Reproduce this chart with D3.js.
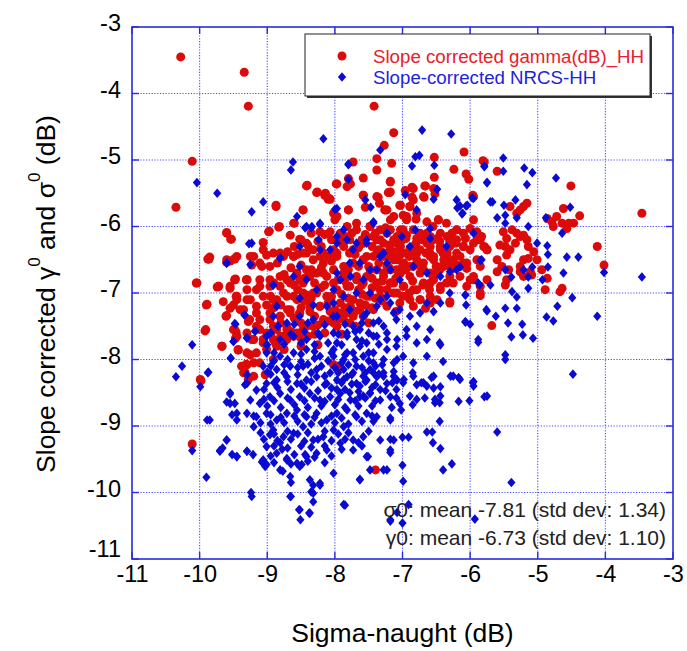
<!DOCTYPE html>
<html>
<head>
<meta charset="utf-8">
<script src="https://cdn.jsdelivr.net/npm/d3@7"></script>
<style>
  body { margin: 0; background: #fff; }
  svg { display: block; font-family: "Liberation Sans", Arial, Helvetica, sans-serif; }
</style>
</head>
<body>
<svg id="chart" width="687" height="651"></svg>
<script>
// Axis ticks
const xTicks = [-11, -10, -9, -8, -7, -6, -5, -4, -3];
const yTicks = [-3, -4, -5, -6, -7, -8, -9, -10, -11];

// Legend and summary text
const legendLabels = ["Slope corrected gamma(dB)_HH", "Slope-corrected NRCS-HH"];
const statsLines = ["\u03c30: mean -7.81 (std dev: 1.34)", "\u03b30: mean -6.73 (std dev: 1.10)"];

// Slope corrected gamma-naught (dB) vs sigma-naught (dB)
const gammaPoints = [
[-10.28,-3.45],[-9.34,-3.68],[-9.28,-4.19],[-10.11,-5.02],[-10.35,-5.71],[-10.04,-6.85],[-9.89,-7.17],[-9.92,-7.57],[-9.88,-6.49],[-9.67,-7.8],
[-9.61,-7.35],[-9.74,-6.91],[-9.6,-6.1],[-9.54,-6.19],[-9.55,-6.52],[-9.49,-6.49],[-9.55,-6.93],[-9.47,-6.79],[-9.46,-7.05],[-9.5,-7.18],
[-9.46,-7.59],[-9.47,-7.68],[-9.43,-7.86],[-9.31,-6.8],[-9.31,-8.07],[-9.33,-8.2],[-9.28,-8.3],[-10.11,-9.27],[-9.98,-8.32],[-7.4,-9.66],[-9.85,-6.46],
[-7.42,-4.19],[-8.41,-5.38],[-8.26,-5.48],[-8.14,-5.5],[-8.1,-5.59],[-8.87,-5.7],[-8.47,-5.75],[-8.6,-5.95],[-8.97,-6.07],[-8.83,-6.01],[-9.06,-6.24],
[-4.51,-5.39],[-3.46,-5.8],[-4.12,-6.3],[-4.02,-6.58],[-5.6,-5.17],[-5.81,-5.01],[-5.96,-5.53],
[-7.13,-4.59],[-7.27,-4.78],[-7.38,-4.98],[-7.73,-5.03],[-7.16,-5.05],[-7.38,-5.15],[-7.98,-5.36],[-7.8,-5.28],[-7.58,-5.27],[-7.18,-5.32],
[-7.77,-5.36],[-6.53,-4.96],[-6.09,-4.88],[-6.24,-5.14],[-6.06,-5.21],[-6.02,-5.29],[-5.79,-5.03],[-6.53,-5.26],[-6.67,-5.39],[-6.84,-5.43],
[-6.96,-5.46],[-6.86,-5.56],[-6.68,-5.56],[-6.52,-5.51],[-7.18,-5.48],[-7.58,-5.53],[-7.36,-5.56],[-7.34,-5.65],[-7.55,-5.71],[-7.26,-5.75],
[-7.8,-5.75],[-7.97,-5.85],[-8.0,-5.9],[-7.04,-5.68],[-6.89,-5.7],[-6.99,-5.83],[-6.94,-5.9],[-6.8,-5.89],[-6.47,-5.9],[-5.95,-5.55],
[-5.83,-6.15],[-5.78,-6.31],[-6.2,-6.05],[-6.07,-6.18],[-6.21,-6.25],[-8.07,-5.59],[-7.82,-6.0],[-7.68,-6.05],[-7.48,-6.0],[-7.18,-6.05],
[-6.99,-6.05],[-6.74,-6.1],[-6.59,-6.15],[-6.44,-6.1],[-6.3,-6.15],[-7.78,-6.2],[-7.58,-6.25],[-7.38,-6.2],[-7.09,-6.25],[-6.84,-6.3],
[-6.64,-6.25],[-6.44,-6.3],[-7.97,-6.4],[-7.78,-6.4],[-7.53,-6.45],[-7.28,-6.4],[-7.04,-6.43],[-6.79,-6.4],[-6.54,-6.45],[-6.1,-6.3],
[-5.9,-6.2],[-5.75,-6.35],
[-5.51,-6.08],[-5.46,-6.18],[-5.38,-6.05],[-5.31,-6.1],[-5.26,-6.15],[-5.21,-6.13],[-5.16,-6.2],[-5.14,-6.3],[-5.33,-6.25],[-5.41,-6.35],
[-5.48,-6.3],[-5.46,-6.43],[-5.56,-6.28],[-5.6,-6.5],[-5.53,-6.6],[-5.43,-6.65],[-5.26,-6.6],[-5.21,-6.5],[-5.14,-6.48],[-5.06,-6.38],
[-5.01,-6.5],[-4.94,-6.65],[-4.86,-6.78],[-5.09,-6.73],[-5.11,-6.68],[-5.26,-6.68],[-5.46,-6.8],[-5.48,-6.88],[-5.6,-6.68],[-5.21,-6.75],
[-4.89,-6.95],[-4.64,-6.93],[-4.67,-6.98],[-5.68,-7.49],[-5.85,-7.04],[-5.85,-6.2],[-5.75,-6.35],[-5.8,-6.3],[-5.9,-6.08],[-6.0,-6.03],
[-6.2,-6.05],[-6.27,-6.1],[-6.25,-6.25],[-6.34,-6.4],[-6.39,-6.5],[-6.42,-6.6],[-6.2,-6.58],[-6.1,-6.55],[-6.05,-6.63],[-6.15,-6.75],
[-6.0,-6.8],[-5.95,-6.75],[-5.75,-6.8],[-5.85,-6.9],[-4.86,-5.88],[-4.79,-5.93],[-4.72,-5.85],[-4.77,-6.0],[-4.62,-5.73],[-4.54,-5.95],
[-4.47,-5.95],[-4.38,-5.84],[-4.57,-6.03],[-4.64,-5.95],[-5.31,-5.8],[-5.21,-5.7],[-5.16,-5.65],[-5.26,-5.75],[-5.41,-5.7],
[-7.18,-5.33],[-6.86,-5.41],[-6.66,-5.39],[-7.19,-5.49],[-7.03,-5.68],[-6.84,-5.6],[-6.69,-5.55],[-6.54,-5.43],[-6.89,-5.7],[-7.26,-5.75],
[-7.13,-5.85],[-6.79,-5.8],[-6.94,-5.85],[-6.47,-5.9],[-6.64,-5.93],[-7.03,-6.05],[-6.84,-6.05],
[-7.33,-6.2],[-7.23,-6.1],[-7.08,-6.15],[-6.94,-6.13],[-6.79,-6.18],[-6.64,-6.1],[-6.49,-6.18],[-6.34,-6.15],[-6.2,-6.2],[-6.1,-6.3],
[-6.3,-6.3],[-6.44,-6.35],[-6.59,-6.3],[-6.74,-6.35],[-6.89,-6.33],[-7.03,-6.3],[-7.18,-6.35],[-7.28,-6.45],[-7.13,-6.5],[-6.98,-6.55],
[-6.84,-6.6],[-6.69,-6.55],[-6.54,-6.5],[-6.39,-6.6],[-6.25,-6.63],[-6.59,-6.7],[-6.74,-6.7],[-6.89,-6.75],[-7.03,-6.7],[-7.18,-6.65],
[-7.28,-6.75],[-7.13,-6.85],[-6.98,-6.9],[-6.84,-6.95],[-6.69,-6.85],[-6.54,-6.8],[-6.44,-6.95],[-6.3,-6.75],[-6.3,-7.15],[-6.59,-7.05],
[-6.74,-7.1],[-6.94,-7.05],[-7.08,-7.0],[-7.23,-6.95],[-6.66,-7.23],[-6.84,-7.2],
[-8.42,-5.39],[-8.27,-5.49],[-8.15,-5.53],[-8.08,-5.58],[-7.97,-5.36],[-7.82,-5.4],[-7.58,-5.53],[-7.38,-5.55],[-7.21,-5.49],[-7.23,-5.75],
[-7.8,-5.75],[-8.02,-5.8],[-8.47,-5.75],[-8.87,-5.68],[-8.61,-5.95],[-8.82,-6.0],[-8.98,-6.08],[-8.66,-6.13],[-8.52,-6.19],[-8.42,-6.25],
[-8.22,-6.08],[-8.07,-6.08],[-7.92,-6.1],[-7.68,-5.95],[-7.48,-6.0],[-7.33,-6.05],[-7.18,-5.9],[-7.13,-6.2],[-7.28,-6.25],[-7.43,-6.15],
[-7.58,-6.25],[-7.73,-6.35],[-7.87,-6.3],[-8.02,-6.35],[-8.17,-6.4],[-8.32,-6.35],[-8.47,-6.4],[-8.61,-6.45],[-8.76,-6.45],[-8.91,-6.4],
[-9.06,-6.35],[-9.2,-6.45],[-9.23,-6.58],[-9.08,-6.6],[-8.96,-6.6],[-9.11,-6.8],[-9.3,-6.8],[-9.48,-6.8],[-9.55,-6.9],[-9.72,-6.9],
[-9.6,-6.5],[-9.48,-6.49],[-9.6,-6.09],[-9.53,-6.19],[-9.87,-6.49],[-9.6,-7.34],[-9.45,-7.1],[-9.3,-7.1],[-9.16,-7.2],[-9.01,-7.18],
[-8.86,-7.1],[-8.71,-7.05],[-8.56,-7.1],[-8.42,-7.03],[-8.27,-7.0],[-8.12,-7.05],[-7.97,-6.95],[-7.82,-6.9],[-7.68,-6.8],[-7.53,-6.75],
[-7.38,-6.65],[-7.23,-6.6],[-7.08,-6.5],[-8.71,-6.8],[-8.56,-6.7],[-8.42,-6.65],[-8.27,-6.7],[-8.12,-6.75],[-8.02,-6.65],[-7.87,-6.6],
[-7.73,-6.55],[-7.58,-6.5],[-7.43,-6.45],[-7.28,-6.4],[-8.32,-6.5],[-8.17,-6.55],[-8.47,-6.85],[-8.81,-6.9],[-8.96,-6.9],[-9.16,-6.95],
[-9.3,-6.95],[-9.4,-7.25],[-9.26,-7.4],[-9.11,-7.4],[-8.96,-7.4],[-8.81,-7.35],[-8.66,-7.3],[-8.52,-7.3],[-8.37,-7.2],[-8.22,-7.2],
[-8.07,-7.28],[-7.92,-7.3],[-7.77,-7.2],[-7.63,-7.15],[-7.48,-7.05],[-7.33,-6.95],[-7.18,-6.85],[-8.71,-7.5],[-8.86,-7.55],[-9.01,-7.6],
[-9.16,-7.5],[-9.3,-7.6],[-9.45,-7.65],[-9.5,-7.55],[-9.2,-7.7],[-9.06,-7.75],[-8.91,-7.7],[-8.76,-7.65],[-8.61,-7.65],[-8.47,-7.55],
[-8.32,-7.5],[-8.17,-7.4],[-8.02,-7.45],[-7.87,-7.4],[-7.73,-7.35],[-9.3,-7.9],[-9.16,-7.9],[-9.01,-7.85],[-8.86,-7.8],[-9.11,-8.05],
[-8.91,-8.0],[-9.3,-8.08],[-9.35,-8.2],[-9.2,-8.25],[-9.03,-8.23],[-8.02,-8.08],[-7.97,-8.1],
[-9.86,-6.49],[-9.6,-6.54],[-9.45,-6.45],[-9.25,-6.45],[-9.11,-6.55],[-9.01,-6.43],[-8.81,-6.4],[-8.61,-6.45],[-8.42,-6.4],[-8.22,-6.45],
[-8.02,-6.4],[-10.05,-6.85],[-9.72,-6.9],[-9.48,-6.8],[-9.3,-6.8],[-9.11,-6.9],[-8.96,-6.8],[-8.81,-6.75],[-8.66,-6.85],[-8.52,-6.8],
[-8.37,-6.75],[-8.17,-6.7],[-9.65,-7.13],[-9.45,-7.05],[-9.25,-7.1],[-9.06,-7.05],[-8.91,-7.1],[-8.76,-7.0],[-8.61,-7.05],[-8.47,-7.0],
[-8.32,-7.0],[-9.9,-7.18],[-9.55,-7.23],[-9.35,-7.25],[-9.16,-7.3],[-8.96,-7.3],[-8.81,-7.35],[-8.66,-7.25],[-8.52,-7.3],[-8.37,-7.28],
[-8.22,-7.2],[-9.91,-7.55],[-9.48,-7.55],[-9.28,-7.43],[-9.11,-7.55],[-8.91,-7.5],[-8.71,-7.55],[-8.56,-7.6],[-8.42,-7.5],[-9.67,-7.8],
[-9.43,-7.85],[-9.23,-7.7],[-9.06,-7.7],[-8.88,-7.75],[-8.71,-7.7],[-9.25,-7.93],[-9.2,-8.05],[-9.38,-8.1],[-9.33,-8.2],[-9.99,-8.3],[-7.97,-8.13],
[-7.97,-6.45],[-7.78,-6.4],[-7.58,-6.5],[-7.38,-6.4],[-7.18,-6.45],[-6.99,-6.4],[-6.79,-6.5],[-6.59,-6.45],[-6.4,-6.4],[-6.2,-6.4],
[-6.05,-6.55],[-6.89,-6.6],[-6.69,-6.65],[-6.49,-6.7],[-6.3,-6.6],[-7.09,-6.65],[-7.28,-6.7],[-7.48,-6.65],[-7.68,-6.75],[-7.87,-6.7],
[-8.02,-6.85],[-7.78,-6.9],[-7.58,-6.85],[-7.38,-6.85],[-7.18,-6.85],[-6.99,-6.9],[-6.79,-6.95],[-6.59,-6.85],[-6.44,-6.9],[-6.89,-7.1],
[-6.74,-7.1],[-6.59,-7.15],[-6.49,-7.1],[-6.3,-7.13],[-7.13,-7.0],[-7.33,-7.05],[-7.53,-7.05],[-7.73,-7.1],[-7.92,-7.15],[-8.02,-7.35],
[-7.82,-7.3],[-7.63,-7.25],[-7.43,-7.25],[-7.23,-7.2],[-7.04,-7.15],[-7.97,-7.5],[-7.78,-7.45],[-7.58,-7.35],[-5.95,-6.8],[-5.85,-7.0],[-7.97,-8.1],
[-8.35,-6.1],[-8.15,-6.12],[-7.95,-6.18],[-7.75,-6.1],[-7.55,-6.12],[-7.25,-6.02],[-6.95,-6.18],[-6.7,-6.2],[-6.45,-6.22],
[-8.6,-6.3],[-8.4,-6.28],[-8.2,-6.3],[-7.9,-6.25],[-7.65,-6.32],[-7.45,-6.3],[-7.2,-6.28],[-6.9,-6.45],[-6.6,-6.38],[-6.35,-6.5],
[-8.85,-6.55],[-8.5,-6.58],[-8.05,-6.52],[-7.65,-6.6],[-7.35,-6.55],[-7.0,-6.6],[-6.75,-6.58],[-6.5,-6.6],[-6.25,-6.5],
[-8.75,-6.72],[-8.45,-6.78],[-7.95,-6.8],[-7.45,-6.78],[-7.1,-6.78],[-6.85,-6.82],[-6.55,-6.75],
[-8.55,-6.95],[-8.2,-6.92],[-7.9,-7.02],[-7.65,-6.95],[-7.45,-6.92],[-6.9,-7.0],[-6.6,-6.95],
[-8.8,-7.18],[-8.45,-7.12],[-8.1,-7.15],[-7.85,-7.22],[-7.55,-7.18],[-7.3,-7.12],[-7.1,-7.28],
[-8.9,-7.22],[-8.6,-7.38],[-8.3,-7.35],[-7.95,-7.4],[-7.7,-7.5],[-7.5,-7.45],
[-8.95,-7.62],[-8.65,-7.58],[-8.4,-7.65],[-8.15,-7.6],[-7.9,-7.62],
[-8.75,-7.85],[-8.5,-7.8],[-8.25,-7.78],
[-6.15,-6.45],[-6.0,-6.35],[-5.9,-6.5],[-6.05,-6.9],[-5.95,-5.9],[-6.35,-5.95],[-5.85,-6.6],[-6.25,-6.85],
[-8.5,-6.2],[-8.25,-6.22],[-8.05,-6.2],[-7.85,-6.15],[-7.6,-6.2],[-7.4,-6.1],[-7.0,-6.2],[-6.8,-6.25],[-6.55,-6.2],[-6.3,-6.22],
[-8.7,-6.38],[-8.55,-6.42],[-8.1,-6.45],[-7.7,-6.42],[-7.35,-6.35],[-7.1,-6.38],[-6.85,-6.42],[-6.65,-6.4],
[-8.65,-6.62],[-8.35,-6.65],[-8.2,-6.62],[-7.8,-6.65],[-7.5,-6.6],[-7.2,-6.62],[-6.95,-6.65],[-6.45,-6.65],
[-8.9,-6.85],[-8.6,-6.88],[-8.3,-6.85],[-8.15,-6.88],[-7.85,-6.82],[-7.6,-6.88],[-7.3,-6.82],[-6.7,-6.88],
[-8.95,-7.05],[-8.35,-7.08],[-8.05,-7.05],[-7.8,-7.08],[-7.6,-7.02],[-7.4,-7.08],[-7.0,-7.05],
[-8.7,-7.25],[-8.5,-7.22],[-8.0,-7.25],[-7.7,-7.28],[-7.45,-7.22],
[-8.8,-7.45],[-8.5,-7.45],[-8.25,-7.48],[-8.1,-7.42],
[-8.8,-7.65],[-8.5,-7.68],[-8.3,-7.62],
[-6.55,-6.0],[-6.35,-6.85],[-6.15,-6.6],[-5.95,-6.25],[-6.1,-6.1],[-6.5,-6.6]
];

// Slope-corrected NRCS (sigma-naught, dB) vs sigma-naught (dB)
const sigmaPoints = [
[-8.17,-4.68],[-8.62,-5.03],[-8.65,-5.15],[-7.8,-5.07],[-7.8,-5.29],[-7.33,-4.85],[-6.71,-4.55],[-6.28,-4.61],[-6.81,-4.95],[-6.75,-4.93],
[-6.86,-5.09],[-6.53,-5.08],[-5.51,-4.97],[-5.51,-5.17],[-5.79,-5.09],[-5.2,-5.12],[-5.08,-5.19],[-5.75,-5.34],[-5.16,-5.37],[-4.73,-5.27],
[-6.49,-5.44],[-6.96,-5.52],[-5.67,-5.63],[-5.5,-5.68],[-5.33,-5.6],[-5.48,-5.83],[-5.6,-5.87],[-5.48,-5.95],[-5.31,-5.87],[-4.88,-5.87],
[-4.52,-5.71],[-4.64,-6.1],[-4.86,-6.29],[-4.85,-6.42],[-4.57,-6.46],[-4.4,-6.46],[-4.85,-6.61],[-4.62,-6.7],[-5.01,-6.25],[-4.02,-6.69],
[-3.46,-6.76],[-4.93,-6.8],[-4.49,-7.07],[-4.71,-7.2],[-4.87,-7.36],[-4.77,-7.42],[-4.12,-7.35],[-4.48,-8.22],[-5.07,-7.68],[-5.22,-7.63],
[-5.39,-7.66],[-5.23,-7.47],[-5.44,-7.45],[-5.48,-7.23],[-5.31,-7.23],[-5.31,-7.06],[-5.38,-6.98],[-5.14,-6.93],[-5.14,-6.76],[-5.21,-6.65],
[-5.08,-6.61],[-5.39,-6.76],[-5.48,-6.65],[-5.62,-7.35],[-5.75,-7.27],[-5.88,-7.74],[-5.85,-6.51],[-5.7,-6.88],[-5.86,-6.88],[-6.06,-7.18],
[-6.07,-7.03],[-6.07,-7.44],[-6.0,-7.47],[-6.15,-6.61],[-6.3,-6.68],[-6.45,-7.75],[-5.48,-7.93],[-5.48,-8.0],[-6.12,-5.81],[-6.19,-5.72],
[-6.04,-5.68],[-5.97,-5.57],[-5.14,-6.0],
[-5.96,-8.35],[-5.79,-8.56],[-6.01,-8.62],[-6.17,-8.63],[-5.6,-9.09],[-5.39,-9.85],[-5.93,-10.4],[-6.27,-9.57],[-6.4,-9.66],[-6.44,-9.34],
[-6.55,-9.25],[-6.64,-9.09],[-6.56,-9.09],[-6.45,-8.93],[-6.67,-8.58],[-6.52,-8.65],[-6.45,-8.65],[-6.85,-8.68],[-6.54,-8.43],[-6.44,-8.41],
[-6.79,-8.38],[-6.72,-8.35],[-6.29,-8.25],[-6.17,-8.27],[-6.57,-8.27],[-6.85,-8.2],[-6.98,-8.3],[-7.02,-8.76],[-7.16,-8.72],[-7.18,-8.88],
[-6.91,-9.17],[-7.0,-9.17],[-7.18,-9.2],[-7.18,-9.4],[-7.0,-9.59],[-7.23,-9.66],[-6.99,-9.83],[-6.91,-10.18],[-7.0,-10.46],[-7.18,-10.41],[-7.28,-9.66],
[-10.35,-8.26],[-9.99,-8.41],[-9.89,-8.91],[-10.11,-9.37],[-9.9,-9.77],[-9.55,-8.5],[-9.6,-8.64],[-9.48,-8.66],[-9.52,-8.83],[-9.45,-8.91],
[-9.6,-9.21],[-9.66,-9.33],[-9.7,-9.37],[-9.52,-9.43],[-9.45,-9.46],[-9.3,-9.38],[-9.21,-9.43],[-9.08,-9.54],[-9.03,-9.61],[-9.24,-10.0],
[-8.96,-9.13],[-8.81,-9.25],[-8.78,-9.35],[-8.71,-9.49],[-8.77,-9.68],[-8.65,-9.85],[-8.65,-10.06],[-8.53,-10.26],[-8.38,-10.31],[-8.51,-10.41],
[-8.32,-10.14],[-8.35,-9.99],[-8.32,-9.89],[-8.22,-9.89],[-8.44,-9.43],[-8.49,-9.58],[-7.85,-10.19],[-7.63,-9.8],[-7.51,-9.46],[-7.43,-8.93],
[-10.04,-5.34],[-9.74,-5.5],[-9.06,-5.63],[-9.23,-5.78],[-9.27,-6.26],[-9.6,-6.55],[-8.81,-6.47],[-8.91,-6.88],[-8.44,-6.02],[-8.35,-6.02],
[-8.22,-5.97],[-8.0,-5.74],[-9.34,-7.33],[-9.47,-7.47],[-9.3,-7.68],[-9.5,-7.73],[-10.11,-7.78],[-10.26,-8.1],[-9.88,-8.2],[-9.54,-7.98],
[-9.18,-7.58],[-9.0,-7.78],[-8.84,-7.5],[-9.25,-6.57],[-9.33,-8.38],[-9.3,-8.23],[-9.0,-8.19],[-9.55,-8.52],
[-7.8,-5.06],[-6.49,-5.44],[-6.54,-5.59],[-7.97,-5.73],[-7.55,-5.6],[-7.47,-5.71],[-6.79,-5.75],[-6.2,-5.6],[-6.15,-5.69],[-6.06,-5.69],
[-6.11,-5.8],[-5.95,-5.58],[-5.79,-5.1],[-5.75,-5.34],[-5.7,-5.63],[-7.43,-5.93],[-7.23,-6.1],[-7.01,-6.15],[-6.81,-6.05],[-6.59,-6.03],
[-5.95,-6.1],[-6.59,-6.18],[-6.89,-6.3],[-6.35,-6.3],[-7.53,-6.25],[-7.87,-6.05],[-7.97,-6.25],[-7.73,-6.35],[-7.28,-6.4],
[-8.42,-6.0],[-8.34,-6.0],[-8.22,-5.95],[-8.24,-6.2],[-8.07,-6.35],[-7.97,-6.15],[-7.82,-6.2],[-7.68,-6.25],[-7.53,-6.2],[-7.43,-5.95],
[-7.23,-6.1],[-8.81,-6.48],[-8.52,-6.6],[-8.61,-6.75],[-8.42,-6.8],[-8.27,-6.95],[-8.52,-7.08],[-8.32,-7.18],[-8.12,-7.2],[-8.02,-6.95],
[-7.92,-6.8],[-7.77,-6.75],[-7.63,-6.55],[-7.48,-6.65],[-7.33,-6.45],[-7.18,-6.65],[-8.86,-7.2],[-8.91,-7.35],[-8.71,-7.45],[-8.52,-7.35],
[-8.32,-7.4],[-8.02,-7.35],[-7.73,-7.5],[-7.53,-7.3],[-7.38,-7.2],[-7.23,-7.05],[-7.13,-7.3],[-9.01,-7.65],[-8.81,-7.7],[-8.61,-7.65],
[-8.42,-7.7],[-8.22,-7.65],[-8.02,-7.6],[-7.82,-7.65],[-7.63,-7.55],[-7.43,-7.65],[-7.23,-7.6],[-7.08,-7.7],[-9.01,-7.9],[-8.81,-7.95],
[-8.61,-7.9],[-8.42,-7.85],[-8.22,-7.95],[-8.02,-7.85],[-7.82,-7.9],[-7.63,-7.8],[-7.43,-7.9],[-7.23,-7.85],[-7.08,-8.0],[-9.06,-8.1],
[-8.86,-8.15],[-8.66,-8.1],[-8.47,-8.1],[-8.27,-8.15],[-8.07,-8.2],[-7.87,-8.15],[-7.68,-8.1],[-7.48,-8.15],[-7.28,-8.2],[-7.13,-8.18],
[-9.33,-7.33],[-9.48,-7.46],[-9.3,-7.67],[-9.5,-7.73],[-9.54,-7.98],[-9.18,-7.57],[-9.01,-7.78],[-8.84,-7.5],[-8.91,-6.88],[-9.23,-6.25],
[-9.6,-6.55],[-9.87,-8.19],[-8.22,-6.35],[-8.52,-6.3],[-8.56,-5.85],
[-9.3,-8.36],[-9.16,-8.46],[-9.01,-8.36],[-8.86,-8.31],[-8.71,-8.26],[-8.56,-8.36],[-8.42,-8.31],[-8.27,-8.26],[-8.12,-8.36],[-7.97,-8.31],
[-7.82,-8.26],[-7.68,-8.36],[-7.53,-8.31],[-7.38,-8.26],[-7.23,-8.36],[-7.08,-8.31],[-9.25,-8.61],[-9.11,-8.66],[-8.96,-8.56],[-8.81,-8.51],
[-8.66,-8.61],[-8.52,-8.56],[-8.37,-8.51],[-8.22,-8.61],[-8.07,-8.56],[-7.92,-8.51],[-7.77,-8.61],[-7.63,-8.56],[-7.48,-8.51],[-7.33,-8.61],
[-7.18,-8.56],[-7.04,-8.66],[-9.55,-8.66],[-9.45,-8.81],[-9.3,-8.81],[-9.16,-8.86],[-9.01,-8.81],[-8.86,-8.91],[-8.71,-8.81],[-8.56,-8.76],
[-8.42,-8.86],[-8.27,-8.81],[-8.12,-8.91],[-7.97,-8.81],[-7.82,-8.76],[-7.68,-8.86],[-7.53,-8.81],[-7.38,-8.86],[-7.18,-8.91],[-9.2,-9.01],
[-8.91,-9.06],[-8.76,-9.16],[-8.61,-9.11],[-8.47,-9.01],[-8.32,-9.21],[-8.17,-9.16],[-8.02,-9.06],[-7.87,-9.01],[-7.73,-9.21],[-7.58,-9.16],
[-7.33,-9.21],[-7.18,-9.36],[-9.01,-9.31],[-8.86,-9.41],[-8.71,-9.51],[-8.56,-9.56],[-8.42,-9.46],[-8.27,-9.41],[-8.12,-9.36],[-7.92,-9.26],
[-7.73,-9.36],[-7.53,-9.46],[-8.81,-9.66],[-8.66,-9.76],[-8.52,-9.61],[-8.37,-9.81],[-8.22,-9.86],[-8.32,-10.01],[-8.02,-9.71],[-7.63,-9.81],
[-8.66,-10.06],[-8.52,-10.26],[-8.37,-10.31],[-7.87,-10.18],[-9.23,-10.06],[-9.01,-9.58],[-9.06,-9.51],[-9.45,-9.46],[-9.3,-9.38],[-9.7,-9.38],
[-9.6,-9.21],[-9.85,-8.91],[-7.18,-10.43],[-7.08,-10.3],[-7.13,-9.21],[-7.48,-9.66],
[-7.97,-6.7],[-7.78,-6.55],[-7.58,-6.8],[-7.38,-6.65],[-7.23,-6.55],[-7.04,-6.8],[-6.84,-6.6],[-6.64,-6.7],[-6.44,-6.75],[-6.2,-6.65],
[-5.83,-6.5],[-5.88,-6.85],[-6.07,-7.03],[-5.76,-7.25],[-6.07,-7.43],[-5.88,-7.7],[-5.75,-8.55],[-5.95,-8.33],[-6.3,-7.0],[-6.44,-7.15],
[-6.54,-7.28],[-6.64,-7.15],[-6.74,-7.3],[-6.89,-7.35],[-7.04,-7.25],[-7.18,-7.15],[-7.33,-7.1],[-7.48,-7.0],[-7.68,-7.0],[-7.87,-7.05],
[-8.02,-7.15],[-7.97,-7.35],[-7.78,-7.25],[-7.58,-7.35],[-7.43,-7.45],[-7.28,-7.5],[-7.09,-7.4],[-6.94,-7.55],[-6.79,-7.5],[-6.59,-7.55],
[-6.44,-7.78],[-6.64,-7.7],[-6.79,-7.75],[-6.94,-7.65],[-7.09,-7.8],[-7.23,-7.7],[-7.38,-7.65],[-7.53,-7.75],[-7.68,-7.7],[-7.82,-7.6],
[-7.97,-7.75],[-8.02,-7.95],[-7.87,-8.0],[-7.73,-7.9],[-7.58,-7.95],[-7.43,-8.05],[-7.28,-8.0],[-7.13,-8.05],[-6.99,-7.95],[-6.84,-8.05],
[-6.64,-7.95],[-6.4,-8.03],[-6.25,-8.25],[-6.54,-8.25],[-6.69,-8.35],[-6.84,-8.25],[-6.99,-8.35],[-7.13,-8.25],[-7.28,-8.25],[-7.43,-8.2],
[-7.58,-8.25],[-7.73,-8.2],[-7.87,-8.3],[-7.97,-8.45],[-7.78,-8.5],[-7.63,-8.4],[-7.48,-8.5],[-7.33,-8.45],[-7.09,-8.45],[-6.89,-8.55],
[-6.64,-8.4],[-6.44,-8.55],[-6.15,-8.3],[-5.95,-8.4],[-6.52,-8.6],[-6.79,-8.6],[-7.09,-8.58],[-7.58,-8.55],
[-8.9,-8.02],[-8.7,-8.0],[-8.5,-8.03],[-8.3,-7.98],[-8.1,-8.02],[-7.9,-8.05],[-7.7,-8.0],[-7.5,-8.02],[-7.3,-8.08],
[-8.95,-8.22],[-8.75,-8.2],[-8.55,-8.23],[-8.35,-8.2],[-8.15,-8.25],[-7.95,-8.2],[-7.75,-8.23],[-7.55,-8.2],[-7.35,-8.22],
[-9.05,-8.45],[-8.85,-8.42],[-8.65,-8.45],[-8.45,-8.43],[-8.25,-8.47],[-8.05,-8.43],[-7.85,-8.45],[-7.65,-8.48],[-7.45,-8.42],[-7.25,-8.47],
[-9.0,-8.7],[-8.8,-8.72],[-8.6,-8.68],[-8.4,-8.72],[-8.2,-8.7],[-8.0,-8.68],[-7.85,-8.72],[-7.65,-8.7],[-7.45,-8.7],
[-9.1,-8.95],[-8.95,-8.97],[-8.75,-8.95],[-8.55,-8.93],[-8.35,-8.97],[-8.2,-8.95],[-8.0,-8.95],[-7.8,-8.97],[-7.6,-8.93],
[-9.05,-9.2],[-8.85,-9.22],[-8.65,-9.2],[-8.45,-9.23],[-8.25,-9.2],[-8.05,-9.22],[-7.85,-9.2],[-7.65,-9.25],
[-8.95,-9.45],[-8.6,-9.43],[-8.3,-9.47],[-8.05,-9.45],
[-8.75,-7.77],[-8.5,-7.75],[-8.3,-7.78],[-8.1,-7.75],[-7.9,-7.78],[-7.6,-7.72],[-7.35,-7.77],
[-8.6,-7.47],[-8.4,-7.45],[-8.15,-7.48],[-7.85,-7.47],[-7.6,-7.45],[-7.35,-7.42],
[-8.95,-8.1],[-8.75,-8.08],[-8.55,-8.12],[-8.4,-8.07],[-8.2,-8.1],[-8.0,-8.12],[-7.8,-8.08],[-7.6,-8.12],[-7.4,-8.1],
[-8.9,-8.35],[-8.7,-8.33],[-8.5,-8.37],[-8.35,-8.33],[-8.15,-8.38],[-7.9,-8.35],[-7.75,-8.37],[-7.55,-8.33],[-7.4,-8.38],[-7.15,-8.35],
[-9.05,-8.6],[-8.9,-8.62],[-8.7,-8.58],[-8.45,-8.62],[-8.3,-8.58],[-8.15,-8.63],[-7.95,-8.6],[-7.7,-8.62],[-7.55,-8.58],[-7.4,-8.62],
[-9.2,-8.85],[-8.95,-8.83],[-8.8,-8.87],[-8.6,-8.85],[-8.45,-8.83],[-8.3,-8.87],[-8.05,-8.85],[-7.9,-8.88],[-7.7,-8.83],[-7.45,-8.85],
[-9.1,-9.1],[-8.9,-9.12],[-8.7,-9.08],[-8.55,-9.12],[-8.4,-9.1],[-8.15,-9.08],[-7.95,-9.12],[-7.8,-9.1],[-7.5,-9.08],
[-8.9,-9.3],[-8.7,-9.33],[-8.5,-9.3],[-8.35,-9.32],[-8.15,-9.3],[-7.9,-9.35],[-7.6,-9.3],
[-8.9,-9.55],[-8.65,-9.57],[-8.4,-9.53],[-8.15,-9.55],
[-8.9,-7.9],[-8.5,-7.92],[-8.3,-7.88],[-8.05,-7.9],[-7.85,-7.93],[-7.5,-7.9],
[-8.95,-7.6],[-8.65,-7.62],[-8.45,-7.58],[-8.25,-7.6],[-7.95,-7.62],[-7.7,-7.58],[-7.5,-7.6]
];

const svg = d3.select("#chart");
const plot = { left: 132, right: 673, top: 27, bottom: 559 };
const axisBlue = "#2a2ae0";
const gridBlue = "#4a4aff";
const fontStack = '"Liberation Sans", Arial, sans-serif';

const x = d3.scaleLinear().domain([-11, -3]).range([plot.left, plot.right]);
const y = d3.scaleLinear().domain([-11, -3]).range([plot.bottom, plot.top]);

svg.append("rect").attr("width", 687).attr("height", 651).attr("fill", "#fff");

// Dotted grid
const grid = svg.append("g").attr("stroke", gridBlue).attr("stroke-width", 1.1)
  .attr("stroke-dasharray", "1.2,1.6");
grid.selectAll("line.gx").data(xTicks.slice(1, -1)).join("line")
  .attr("x1", d => x(d)).attr("x2", d => x(d))
  .attr("y1", plot.top).attr("y2", plot.bottom);
grid.selectAll("line.gy").data(yTicks.slice(1, -1)).join("line")
  .attr("y1", d => y(d)).attr("y2", d => y(d))
  .attr("x1", plot.left).attr("x2", plot.right);

// Inward tick marks on all four sides
const tl = 7;
const ticks = svg.append("g").attr("stroke", axisBlue).attr("stroke-width", 1.4);
xTicks.forEach(v => {
  ticks.append("line").attr("x1", x(v)).attr("x2", x(v)).attr("y1", plot.bottom).attr("y2", plot.bottom - tl);
  ticks.append("line").attr("x1", x(v)).attr("x2", x(v)).attr("y1", plot.top).attr("y2", plot.top + tl);
});
yTicks.forEach(v => {
  ticks.append("line").attr("y1", y(v)).attr("y2", y(v)).attr("x1", plot.left).attr("x2", plot.left + tl);
  ticks.append("line").attr("y1", y(v)).attr("y2", y(v)).attr("x1", plot.right).attr("x2", plot.right - tl);
});

// Points: gamma first, sigma drawn over it
svg.append("g").selectAll("circle").data(gammaPoints).join("circle")
  .attr("cx", d => x(d[0])).attr("cy", d => y(d[1])).attr("r", 4.5)
  .attr("fill", "#dd0a0a");

const diamond = (cx, cy) => `M${cx},${cy - 4.8}L${cx + 4.1},${cy}L${cx},${cy + 4.8}L${cx - 4.1},${cy}Z`;
svg.append("g").selectAll("path").data(sigmaPoints).join("path")
  .attr("d", d => diamond(x(d[0]), y(d[1])))
  .attr("fill", "#0a0ad2");

// Frame
svg.append("rect").attr("x", plot.left).attr("y", plot.top)
  .attr("width", plot.right - plot.left).attr("height", plot.bottom - plot.top)
  .attr("fill", "none").attr("stroke", axisBlue).attr("stroke-width", 1.6);

// Tick labels via d3 axes (lines hidden, labels kept)
const tickFmt = d => String(d);
const xAxis = svg.append("g").attr("transform", `translate(0,${plot.bottom})`)
  .call(d3.axisBottom(x).tickValues(xTicks).tickSize(0).tickPadding(6).tickFormat(tickFmt));
xAxis.select(".domain").remove();
xAxis.selectAll("text").attr("font-size", 23.5).attr("fill", "#000").attr("font-family", fontStack);

const yAxis = svg.append("g").attr("transform", `translate(${plot.left},0)`)
  .call(d3.axisLeft(y).tickValues(yTicks).tickSize(0).tickPadding(11).tickFormat(tickFmt));
yAxis.select(".domain").remove();
yAxis.selectAll("text").attr("font-size", 23.5).attr("fill", "#000").attr("font-family", fontStack)
  .attr("y", d => d === -11 ? -10 : -4);

// Axis titles
svg.append("text").attr("x", (plot.left + plot.right) / 2).attr("y", 642)
  .attr("text-anchor", "middle").attr("font-size", 26.5).attr("fill", "#000")
  .text("Sigma-naught (dB)");

const yt = svg.append("text").attr("transform", "translate(55,294) rotate(-90)")
  .attr("text-anchor", "middle").attr("font-size", 26.5).attr("fill", "#000");
yt.append("tspan").text("Slope corrected \u03b3");
yt.append("tspan").attr("font-size", 17).attr("dy", -15).text("0");
yt.append("tspan").attr("dy", 15).text(" and \u03c3");
yt.append("tspan").attr("font-size", 17).attr("dy", -15).text("0");
yt.append("tspan").attr("dy", 15).text(" (dB)");

// Legend
const lg = svg.append("g");
lg.append("rect").attr("x", 307).attr("y", 36).attr("width", 345).attr("height", 62).attr("fill", "#333");
lg.append("rect").attr("x", 305).attr("y", 34).attr("width", 345).attr("height", 62)
  .attr("fill", "#fff").attr("stroke", "#222").attr("stroke-width", 1);
lg.append("circle").attr("cx", 342).attr("cy", 56).attr("r", 4.5).attr("fill", "#dd0a0a");
lg.append("path").attr("d", diamond(342, 77)).attr("fill", "#0a0ad2");
lg.append("text").attr("x", 373).attr("y", 62.5).attr("font-size", 18.7).attr("fill", "#e8202a").text(legendLabels[0]);
lg.append("text").attr("x", 373).attr("y", 83.5).attr("font-size", 18.7).attr("fill", "#2222dd").text(legendLabels[1]);

// Summary statistics
svg.append("g").selectAll("text").data(statsLines).join("text")
  .attr("x", 666).attr("y", (d, i) => 517 + i * 28)
  .attr("text-anchor", "end").attr("font-size", 21).attr("fill", "#222")
  .text(d => d);
</script>
</body>
</html>
